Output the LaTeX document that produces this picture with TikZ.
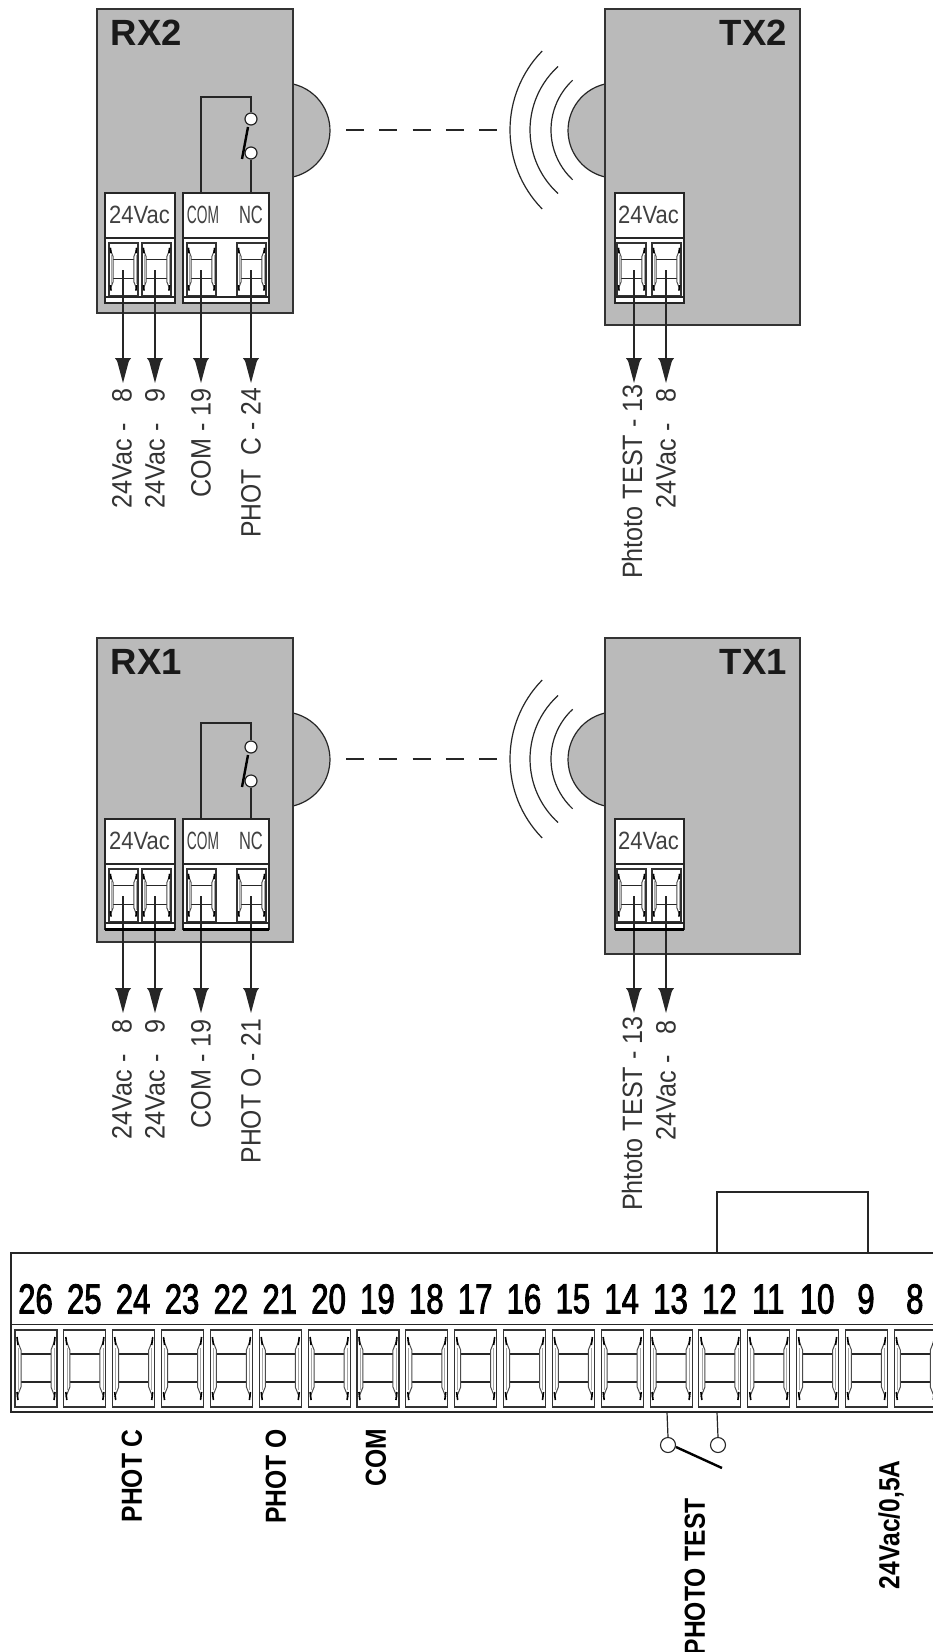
\documentclass[tikz,border=0pt]{standalone}
\usepackage{fontspec}
\usepackage{graphicx}
\usetikzlibrary{arrows.meta}
\setmainfont{Liberation Sans}
\newfontfamily\labfont[FakeStretch=0.9]{Liberation Sans}
\newfontfamily\numfont[FakeStretch=0.74,FakeBold=2]{Liberation Sans}
\newfontfamily\boldlabfont[FakeStretch=0.85]{Liberation Sans}
\definecolor{boxgray}{RGB}{186,186,186}
\tikzset{
  wire/.style={line width=1.2pt,draw=black!85},
  housing/.style={draw=black!80,line width=1.5pt,fill=boxgray,anchor=north west,inner sep=0,outer sep=0},
  blockbox/.style={draw=black!85,line width=1.2pt,fill=white,anchor=north west,inner sep=0,outer sep=0},
  title/.style={font=\fontsize{36.5}{38}\selectfont\bfseries,inner sep=0,text=black!90},
  pinlabel/.style={font=\labfont\fontsize{28}{30}\selectfont,rotate=90,anchor=east,inner sep=0,text=black!80},
  boardlabel/.style={font=\boldlabfont\fontsize{29}{31}\selectfont\bfseries,rotate=90,anchor=east,inner sep=0},
  numlabel/.style={font=\numfont\fontsize{42}{44}\selectfont,inner sep=0,text=black},
  blocklabel/.style={font=\fontsize{25}{27}\selectfont,inner sep=0,text=black!75},
  feed/.style={wire,-{Triangle[length=11pt,width=16pt,sep=-11pt] Triangle[length=25pt,width=13pt]}},
  terminal/.pic={
    \draw[line width=1.1pt,draw=black!80,fill=white] (0,0) rectangle (42,77);
    \draw[line width=1.2pt,draw=black!85] (6,24)--(36,24) (6,52)--(36,52);
    \draw[line width=1pt,draw=black!70] (2,10)--(6,20)--(6,57)--(2,67) (40,10)--(36,20)--(36,57)--(40,67);
    \draw[line width=.7pt,draw=black!35] (3,18)--(3,60) (39,18)--(39,60);
    \draw[line width=1.6pt,draw=black] (2,7)--(3,15) (2,62)--(3,70) (40,7)--(39,15) (40,62)--(39,70);
  }
}
% #1 y offset, #2 suffix, #3 title, #4 label shift, #5 fourth label, #6 arrow shift, #7 block shift, #8 switch shift
\newcommand{\rxunit}[8]{
\begin{scope}[shift={(0,#1)}]
  \draw[wire,fill=boxgray] (293,84) arc[start angle=77,end angle=-77,radius=47.7pt];
  \node[housing,minimum width=196pt,minimum height=304pt] (rx#2) at (97,9) {};
  \node[title,anchor=north west] (rxt#2) at (110.5,20) {#3};
  \node[blockbox,minimum width=70pt,minimum height=110pt] (rxa#2) at (105,193+#7) {};
  \node[blockbox,minimum width=86pt,minimum height=110pt] (rxb#2) at (183,193+#7) {};
  \draw[wire] (105,238+#7)--(175,238+#7) (183,238+#7)--(269,238+#7) (105,297+#7)--(175,297+#7) (183,297+#7)--(269,297+#7);
  \node[blocklabel] (rxl1#2) at (139.5,215+#7) {\scalebox{.88}[1]{24Vac}};
  \node[blocklabel] (rxl2#2) at (203,215+#7) {\scalebox{.55}[1]{COM}};
  \node[blocklabel] (rxl3#2) at (251,215+#7) {\scalebox{.66}[1]{NC}};
  \pic[xscale=.69,yscale=.68] at (109,243+#7) {terminal};
  \pic[xscale=.69,yscale=.68] at (142,243+#7) {terminal};
  \pic[xscale=.69,yscale=.68] at (187,243+#7) {terminal};
  \pic[xscale=.69,yscale=.68] at (237,243+#7) {terminal};
  \node[draw=black!85,line width=1.2pt,fill=white,circle,inner sep=0,minimum size=12pt] (sa#2) at (251,119+#8) {};
  \node[draw=black!85,line width=1.2pt,fill=white,circle,inner sep=0,minimum size=12pt] (sb#2) at (251,153+#8) {};
  \coordinate (ca#2) at (201,193+#7);
  \coordinate (cb#2) at (251,193+#7);
  \draw[wire] (ca#2) -- (201,97+#7) -| (sa#2.north);
  \draw[wire] (sb#2.south) -- (cb#2);
  \draw[line width=2.4pt] (248,127+#8) -- (242,159+#8);
  \foreach \n/\x in {1/123,2/155,3/201,4/251}{
    \coordinate (w\n#2) at (\x,270+#7);
    \coordinate (h\n#2) at (\x,383+#6);
    \draw[feed] (w\n#2) -- (h\n#2);
  }
  \node[pinlabel] (la#2) at (122,388+#4) {24Vac -\ \ \ 8};
  \node[pinlabel] (lb#2) at (155,388+#4) {24Vac -\ \ \ 9};
  \node[pinlabel] (lc#2) at (201,388+#4) {COM - 19};
  \node[pinlabel] (ld#2) at (251,388+#4) {\scalebox{.98}[1]{#5}};
\end{scope}
}
% #1 y offset, #2 suffix, #3 title, #4 label shift, #5 arrow shift, #6 block shift
\newcommand{\txunit}[6]{
\begin{scope}[shift={(0,#1)}]
  \draw[wire,fill=boxgray] (605,84) arc[start angle=103,end angle=257,radius=47.7pt];
  \node[housing,minimum width=195pt,minimum height=316pt] (tx#2) at (605,9) {};
  \node[title,anchor=north east] (txt#2) at (787,20) {#3};
  \foreach \c/\r/\a in {623/113/44.3,616/86/47.6,619/68/47}{
    \draw[wire] ([shift={({180-\a}:\r pt)}]\c,130) arc[start angle={180-\a},end angle={180+\a},radius=\r pt];
  }
  \node[blockbox,minimum width=69pt,minimum height=110pt] (txa#2) at (615,193+#6) {};
  \draw[wire] (615,238+#6)--(684,238+#6) (615,297+#6)--(684,297+#6);
  \node[blocklabel] (txl#2) at (648.5,215+#6) {\scalebox{.88}[1]{24Vac}};
  \pic[xscale=.69,yscale=.68] at (617,243+#6) {terminal};
  \pic[xscale=.69,yscale=.68] at (652,243+#6) {terminal};
  \foreach \n/\x in {1/634,2/666}{
    \coordinate (tw\n#2) at (\x,270+#6);
    \coordinate (th\n#2) at (\x,383+#5);
    \draw[feed] (tw\n#2) -- (th\n#2);
  }
  \node[pinlabel] (tla#2) at (632,388+#4-4) {Phtoto TEST - 13};
  \node[pinlabel] (tlb#2) at (666,388+#4) {24Vac -\ \ \ 8};
\end{scope}
}
\begin{document}
\begin{tikzpicture}[x=1pt,y=-1pt]
\useasboundingbox (0,0) rectangle (933,1652);
\clip (0,0) rectangle (933,1652);
\fill[white] (0,0) rectangle (933,1652);
% upper and middle pairs
\rxunit{0}{u}{RX2}{0}{PHOT\ \ C - 24}{0}{0}{0}
\txunit{0}{u}{TX2}{0}{0}{0}
\coordinate (beamau) at (346,130);
\coordinate (beambu) at (497,130);
\draw[wire,dash pattern=on 18pt off 15.25pt] (beamau) -- (beambu);
\rxunit{629}{m}{RX1}{2}{PHOT O - 21}{1}{-3}{-1}
\txunit{629}{m}{TX1}{3}{1}{-3}
\coordinate (beamam) at (346,759);
\coordinate (beambm) at (497,759);
\draw[wire,dash pattern=on 18pt off 15.25pt] (beamam) -- (beambm);
\draw[line width=3pt] (105,929)--(175,929) (183,929)--(269,929) (615,929)--(684,929);
% terminal board
\node[draw=black!85,line width=1.3pt,fill=white,anchor=north west,inner sep=0,outer sep=0,minimum width=1000pt,minimum height=159pt] (board) at (11,1253) {};
\draw[wire] (11,1324.5) -- (960,1324.5);
\foreach \n [count=\i from 0] in {26,25,...,8}{
  \pgfmathsetmacro{\xt}{15+48.85*\i}
  \pic at (\xt,1330) {terminal};
  \node[numlabel] (n\n) at (\xt+20.5,1299) {\n};
}
% jumper
\coordinate (ja) at (717,1253);
\coordinate (jb) at (868,1253);
\draw[wire] (ja) -- (717,1192) -- (868,1192) -- (jb);
% photo test switch
\node[draw=black!85,line width=1.1pt,fill=white,circle,inner sep=0,minimum size=15pt] (pa) at (668,1445) {};
\node[draw=black!85,line width=1.1pt,fill=white,circle,inner sep=0,minimum size=15pt] (pb) at (718,1445) {};
\draw[wire] (667,1412) -- (pa.north);
\draw[wire] (717,1412) -- (pb.north);
\draw[line width=2.4pt] (676,1447) -- (722,1468);
% board labels
\node[boardlabel] (lphc) at (132,1429) {PHOT C};
\node[boardlabel] (lpho) at (276,1429) {PHOT O};
\node[boardlabel] (lcom) at (376,1429) {COM};
\node[boardlabel] (ltest) at (695,1498) {PHOTO TEST};
\node[boardlabel] (lvac) at (891,1460) {24Vac/0,5A};
\end{tikzpicture}
\end{document}
